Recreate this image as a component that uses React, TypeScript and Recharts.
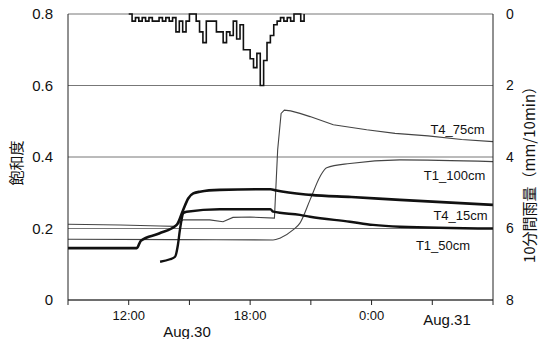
import React from 'react';
import { LineChart, Line, XAxis, YAxis, CartesianGrid } from 'recharts';

// hours counted from Aug.30 0:00 (24 = Aug.31 0:00)
const t415Hours = [9, 12.4, 12.6, 13.5, 14.37, 14.69, 14.94, 15.19, 15.52, 16.5, 19.0, 19.3, 21.0, 23.0, 25.4, 30];
const t415Values = [0.145, 0.145, 0.166, 0.186, 0.21, 0.252, 0.284, 0.298, 0.303, 0.308, 0.31, 0.306, 0.294, 0.288, 0.28, 0.266];

const t150Hours = [13.55, 14.04, 14.29, 14.43, 14.53, 14.7, 14.86, 16.5, 19.0, 19.14, 20.46, 20.96, 22.93, 24.07, 25.4, 30];
const t150Values = [0.107, 0.114, 0.121, 0.154, 0.196, 0.243, 0.247, 0.254, 0.254, 0.247, 0.238, 0.233, 0.219, 0.21, 0.205, 0.2];

const t475Hours = [9, 11.6, 13.55, 14.3, 14.68, 16.0, 16.66, 17.15, 18.0, 19.2, 19.36, 19.53, 19.69, 20.0, 20.46, 20.96, 22.11, 23.76, 25.16, 26.79, 28.45, 30];
const t475Values = [0.212, 0.21, 0.207, 0.206, 0.224, 0.224, 0.219, 0.231, 0.232, 0.229, 0.42, 0.522, 0.531, 0.529, 0.522, 0.513, 0.49, 0.476, 0.466, 0.459, 0.449, 0.443];

const t1100Hours = [9, 14.3, 19.13, 19.47, 20.12, 20.46, 20.96, 21.45, 21.78, 22.93, 25.4, 30];
const t1100Values = [0.17, 0.169, 0.168, 0.173, 0.196, 0.215, 0.28, 0.345, 0.37, 0.382, 0.392, 0.387];

// 10-minute rainfall (mm/10min), right axis
const rainTimes = [
  '12:00', '12:10', '12:20', '12:30', '12:40', '12:50',
  '13:00', '13:10', '13:20', '13:30', '13:40', '13:50',
  '14:00', '14:10', '14:20', '14:30', '14:40', '14:50',
  '15:00', '15:10', '15:20', '15:30', '15:40', '15:50',
  '16:00', '16:10', '16:20', '16:30', '16:40', '16:50',
  '17:00', '17:10', '17:20', '17:30', '17:40', '17:50',
  '18:00', '18:10', '18:20', '18:30', '18:40', '18:50',
  '19:00', '19:10', '19:20', '19:30', '19:40', '19:50',
  '20:00', '20:10', '20:20', '20:30', '20:40',
];
const rainValues = [
  0, 0.2, 0.1, 0.2, 0.1, 0.2,
  0.1, 0.2, 0.2, 0.1, 0.2, 0.1,
  0.2, 0.1, 0.5, 0.2, 0.5, 0.2,
  0, 0, 0.2, 0.5, 0.8, 0.2,
  0.2, 0.2, 0.5, 0.5, 0.8, 0.5,
  0.6, 0.2, 0.7, 0.3, 1.0, 1.0,
  1.25, 1.5, 1.1, 2.0, 1.3, 0.8,
  0.6, 0.3, 0.2, 0.1, 0.2, 0.1,
  0.2, 0, 0, 0.2, 0,
];

const xTicks = [9, 12, 15, 18, 21, 24, 27, 30];
const xTickLabels: Record<number, string> = { 12: '12:00', 18: '18:00', 24: '0:00' };
const leftTicks = [0, 0.2, 0.4, 0.6, 0.8];
const rightTicks = [0, 2, 4, 6, 8];

const toHour = (s: string) => {
  const [hh, mm] = s.split(':').map(Number);
  return hh + mm / 60;
};
const zip = (hs: number[], vs: number[]) => hs.map((h, i) => ({ h, v: vs[i] }));

const t415 = zip(t415Hours, t415Values);
const t150 = zip(t150Hours, t150Values);
const t475 = zip(t475Hours, t475Values);
const t1100 = zip(t1100Hours, t1100Values);
const rain = rainTimes.map((t, i) => ({ h: toHour(t), v: rainValues[i] }));

const FONT = '"Liberation Sans", Arial, sans-serif';
const CJK = '"Noto Sans CJK JP", sans-serif';

const label = (left: number, top: number, size: number): React.CSSProperties => ({
  position: 'absolute', left, top, transform: 'translate(-50%, -50%)',
  fontFamily: FONT, fontSize: size, color: '#111', whiteSpace: 'nowrap',
});

export default function App() {
  return (
    <div style={{ position: 'absolute', left: 0, top: 0, width: 543, height: 339, background: '#fff', overflow: 'hidden' }}>
      <LineChart width={543} height={339} margin={{ top: 14, right: 0, bottom: 0, left: 0 }}>
        <CartesianGrid yAxisId="left" vertical={false} stroke="#777" strokeWidth={1} />
        <XAxis
          type="number" dataKey="h" domain={[9, 30]} ticks={xTicks} height={39}
          tickFormatter={(v: number) => xTickLabels[v] || ''}
          tickSize={5} tickMargin={6} stroke="#222" allowDataOverflow
          tick={{ fontSize: 13, fill: '#111', fontFamily: FONT }}
        />
        <YAxis
          yAxisId="left" domain={[0, 0.8]} ticks={leftTicks} width={68}
          tickFormatter={(v: number) => (v === 0 ? '0' : v.toFixed(1))}
          tickSize={0} tickMargin={15} stroke="#222"
          tick={{ fontSize: 15, fill: '#111', fontFamily: FONT }}
        />
        <YAxis
          yAxisId="right" orientation="right" domain={[0, 8]} reversed ticks={rightTicks} width={50}
          tickSize={0} tickMargin={13} stroke="#222"
          tick={{ fontSize: 14, fill: '#111', fontFamily: FONT, textAnchor: 'start' }}
        />
        <Line yAxisId="right" data={rain} dataKey="v" type="stepAfter" stroke="#111" strokeWidth={1.6} dot={false} isAnimationActive={false} />
        <Line yAxisId="left" data={t1100} dataKey="v" type="monotone" stroke="#444" strokeWidth={1.1} dot={false} isAnimationActive={false} />
        <Line yAxisId="left" data={t475} dataKey="v" type="linear" stroke="#444" strokeWidth={1.1} dot={false} isAnimationActive={false} />
        <Line yAxisId="left" data={t150} dataKey="v" type="monotone" stroke="#111" strokeWidth={2.4} dot={false} isAnimationActive={false} />
        <Line yAxisId="left" data={t415} dataKey="v" type="monotone" stroke="#111" strokeWidth={2.6} dot={false} isAnimationActive={false} />
      </LineChart>

      <div style={label(457.5, 129, 13)}>T4_75cm</div>
      <div style={label(454.5, 175, 13)}>T1_100cm</div>
      <div style={label(460.5, 215, 13)}>T4_15cm</div>
      <div style={label(443, 245, 13)}>T1_50cm</div>

      <div style={label(187, 331, 15)}>Aug.30</div>
      <div style={label(447, 319, 15)}>Aug.31</div>

      <div style={{ ...label(15, 163, 15), fontFamily: CJK, transform: 'translate(-50%, -50%) rotate(-90deg)' }}>飽和度</div>
      <div style={{ ...label(528, 171, 15), fontFamily: CJK, transform: 'translate(-50%, -50%) rotate(-90deg)' }}>10分間雨量（mm/10min）</div>
    </div>
  );
}
